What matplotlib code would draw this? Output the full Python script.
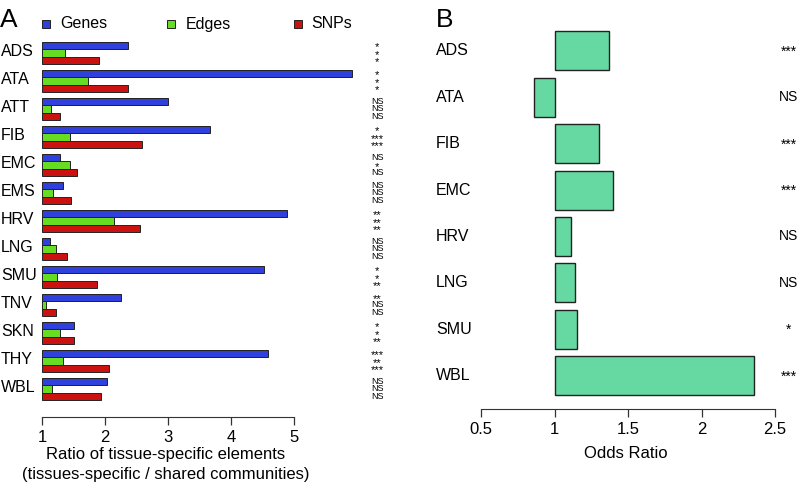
import matplotlib
matplotlib.use("Agg")
import matplotlib.pyplot as plt
from matplotlib.patches import Rectangle
from matplotlib.transforms import blended_transform_factory
import numpy as np

plt.rcParams['font.family'] = ['Liberation Sans', 'DejaVu Sans']

# panel A data
tissues_a = ["ADS", "ATA", "ATT", "FIB", "EMC", "EMS", "HRV", "LNG", "SMU", "TNV", "SKN", "THY", "WBL"]
genes = [2.37, 5.92, 3.00, 3.66, 1.29, 1.34, 4.89, 1.12, 4.53, 2.26, 1.51, 4.58, 2.03]
edges = [1.37, 1.73, 1.14, 1.44, 1.44, 1.18, 2.15, 1.22, 1.24, 1.06, 1.29, 1.34, 1.16]
snps = [1.90, 2.36, 1.28, 2.58, 1.55, 1.46, 2.56, 1.39, 1.87, 1.23, 1.51, 2.07, 1.93]
sig_genes = ["*", "*", "NS", "*", "NS", "NS", "**", "NS", "*", "**", "*", "***", "NS"]
sig_edges = ["*", "*", "NS", "***", "*", "NS", "**", "NS", "*", "NS", "*", "**", "NS"]
sig_snps = ["*", "*", "NS", "***", "NS", "NS", "**", "NS", "**", "NS", "**", "***", "NS"]

# panel B data
tissues_b = ["ADS", "ATA", "FIB", "EMC", "HRV", "LNG", "SMU", "WBL"]
odds = [1.37, 0.86, 1.30, 1.40, 1.115, 1.14, 1.15, 2.36]
sig_b = ["***", "NS", "***", "***", "NS", "NS", "*", "***"]

W, H = 802, 482
fig = plt.figure(figsize=(W / 100, H / 100), dpi=100)

def box(l, t, r, b):
    return [l / W, 1 - b / H, (r - l) / W, (b - t) / H]

c_genes, c_edges, c_snps = "#3040dc", "#66dd22", "#cc1111"

# ---- panel A ----
ax = fig.add_axes(box(42, 35, 390, 417))
y = np.arange(len(tissues_a))
bh = 0.26
ax.barh(y - bh, np.array(genes) - 1, left=1, height=bh, color=c_genes, edgecolor="#222222", linewidth=0.7)
ax.barh(y, np.array(edges) - 1, left=1, height=bh, color=c_edges, edgecolor="#222222", linewidth=0.7)
ax.barh(y + bh, np.array(snps) - 1, left=1, height=bh, color=c_snps, edgecolor="#222222", linewidth=0.7)
ax.set_xlim(1, 1 + (390 - 42) / 63)
ax.set_ylim(len(tissues_a), -0.64)
for s in ["top", "right", "left"]:
    ax.spines[s].set_visible(False)
ax.spines["bottom"].set_bounds(1, 5)
ax.spines["bottom"].set_color("#333333")
ax.set_xticks([1, 2, 3, 4, 5])
ax.tick_params(axis="x", length=6, width=0.9, colors="#333333", labelcolor="black", labelsize=12, pad=3)
ax.set_yticks([])
ax.set_xlabel("Ratio of tissue-specific elements\n(tissues-specific / shared communities)", fontsize=12, linespacing=1.4)
ax.xaxis.set_label_coords((166 - 42) / (390 - 42), -(447 - 417) / (417 - 35))

tr = blended_transform_factory(fig.transFigure, ax.transData)
for i, t in enumerate(tissues_a):
    ax.text(1 / W, i - 0.05, t, transform=tr, ha="left", va="center", fontsize=11.5)
xs = 1 + (377 - 42) / 63
for i in range(len(tissues_a)):
    for off, lab in zip([-bh, 0, bh], [sig_genes[i], sig_edges[i], sig_snps[i]]):
        star = "*" in lab
        ax.text(xs, i + off + (0.06 if star else 0), lab, ha="center", va="center",
                fontsize=8 if star else 6.5)

# legend
for sx, tx, col, lab in [(42, 60, c_genes, "Genes"), (167, 186, c_edges, "Edges"), (294, 311, c_snps, "SNPs")]:
    fig.patches.append(Rectangle((sx / W, 1 - 28 / H), 8 / W, 8 / H, transform=fig.transFigure,
                                 facecolor=col, edgecolor="#222222", linewidth=0.7))
    fig.text(tx / W, 1 - 24 / H, lab, ha="left", va="center", fontsize=11.5)
fig.text(0, 1 - 20 / H, "A", ha="left", va="center", fontsize=19)

# ---- panel B ----
bx = fig.add_axes(box(481, 25, 800, 409))
yb = np.arange(len(tissues_b))
bx.barh(yb, np.array(odds) - 1, left=1, height=0.84, color="#66d9a3", edgecolor="#222222", linewidth=1.0)
bx.set_xlim(0.5, 0.5 + (800 - 481) / 147)
bx.set_ylim(len(tissues_b) - 1 + 0.72, -0.56)
for s in ["top", "right", "left"]:
    bx.spines[s].set_visible(False)
bx.spines["bottom"].set_bounds(0.5, 2.5)
bx.spines["bottom"].set_color("#333333")
bx.set_xticks([0.5, 1, 1.5, 2, 2.5])
bx.set_xticklabels(["0.5", "1", "1.5", "2", "2.5"])
bx.tick_params(axis="x", length=6, width=0.9, colors="#333333", labelcolor="black", labelsize=12, pad=3)
bx.set_yticks([])
bx.set_xlabel("Odds Ratio", fontsize=12)
bx.xaxis.set_label_coords((626 - 481) / (800 - 481), -(446 - 409) / (409 - 25))
trb = blended_transform_factory(fig.transFigure, bx.transData)
for i, t in enumerate(tissues_b):
    bx.text(436 / W, i, t, transform=trb, ha="left", va="center", fontsize=11.5)
for i, lab in enumerate(sig_b):
    star = "*" in lab
    bx.text(789 / W, i + (0.02 if star else 0), lab, transform=trb, ha="center", va="center", fontsize=10)
fig.text(436 / W, 1 - 20 / H, "B", ha="left", va="center", fontsize=19)

fig.savefig("out.png", dpi=100)
